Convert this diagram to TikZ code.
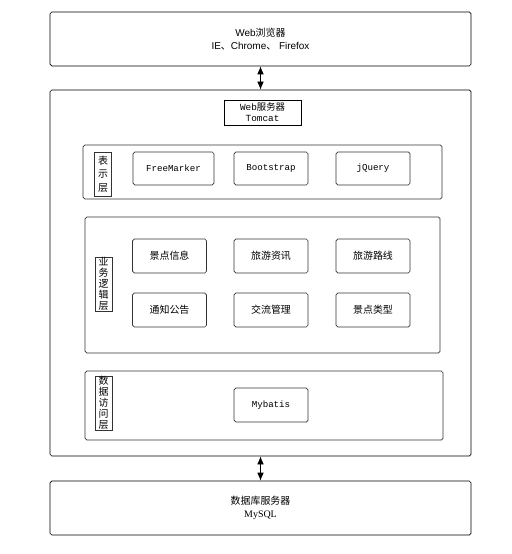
\documentclass[tikz,border=0pt]{standalone}
\usepackage{fontspec}
\usetikzlibrary{arrows.meta}
\setmainfont{Liberation Serif}
\setsansfont{Liberation Sans}
\setmonofont{Liberation Mono}
\newfontfamily\cjk{Noto Sans CJK SC}
\newcommand{\zh}[1]{{\cjk #1}}
\begin{document}
\begin{tikzpicture}[x=0.3mm,y=-0.3mm]
\tikzstyle{block} = [rectangle, draw=black, line width=0.6pt, rounded corners=1.5pt, minimum width=126.3mm, minimum height=16.2mm, inner sep=0pt, align=center, font=\fontsize{8.5}{10.5}\selectfont]
\tikzstyle{layer} = [rectangle, draw=black!80, line width=0.6pt, rounded corners=1.5pt, inner sep=0pt]
\tikzstyle{item} = [rectangle, draw=black!80, line width=0.6pt, rounded corners=1.5pt, minimum width=22.2mm, minimum height=10.2mm, inner sep=0pt, font=\ttfamily\fontsize{7.8}{9}\selectfont]
\tikzstyle{tag} = [rectangle, draw=black!80, line width=0.6pt, fill=white, minimum width=5.1mm, inner sep=0pt, text width=5.1mm, align=center]

\useasboundingbox (0,0) rectangle (511,554);

\node at (260.5,39) [block] (browser) {\sffamily Web\zh{浏览器}\\ \sffamily IE\zh{、}Chrome\zh{、} Firefox};

\node at (260.5,273) [block, minimum height=109.8mm] (server) {};
\node at (262.5,112.5) [rectangle, draw=black, line width=0.6pt, minimum width=23.1mm, minimum height=7.5mm, inner sep=0pt, align=center, font=\fontsize{8}{9.5}\selectfont] (tomcat) {\ttfamily Web\zh{服务器}\\ \ttfamily Tomcat};

\draw[<->, >={Latex[length=2.4mm,width=2mm]}, line width=0.6pt] (browser.south) -- (server.north);

% presentation layer
\node at (262.5,172) [layer, minimum width=107.7mm, minimum height=16.2mm] (pres) {};
\node at (103,174) [tag, minimum height=13.2mm, font=\cjk\fontsize{8.5}{11.5}\selectfont] (presTag) {表\\示\\层};
\node at (173.5,168.5) [item, minimum width=24.3mm, minimum height=9.9mm] (freemarker) {FreeMarker};
\node at (271,168.5) [item, minimum height=9.9mm] (bootstrap) {Bootstrap};
\node at (373,168.5) [item, minimum height=9.9mm] (jquery) {jQuery};

% business layer
\node at (262.5,285) [layer, minimum width=106.5mm, minimum height=40.8mm] (biz) {};
\node at (103.5,284) [tag, minimum height=16.2mm, font=\cjk\fontsize{8.5}{9.4}\selectfont] (bizTag) {业\\务\\逻\\辑\\层};
\node at (169.5,256) [item, font=\cjk\fontsize{8.5}{9}\selectfont] (spot) {景点信息};
\node at (271,256) [item, font=\cjk\fontsize{8.5}{9}\selectfont] (news) {旅游资讯};
\node at (373,256) [item, font=\cjk\fontsize{8.5}{9}\selectfont] (route) {旅游路线};
\node at (169.5,310) [item, font=\cjk\fontsize{8.5}{9}\selectfont] (notice) {通知公告};
\node at (271,310) [item, font=\cjk\fontsize{8.5}{9}\selectfont] (talk) {交流管理};
\node at (373,310) [item, font=\cjk\fontsize{8.5}{9}\selectfont] (spotType) {景点类型};

% data access layer
\node at (264,405.5) [layer, minimum width=107.4mm, minimum height=20.7mm] (data) {};
\node at (103.5,403) [tag, minimum height=16.2mm, font=\cjk\fontsize{8.5}{9.4}\selectfont] (dataTag) {数\\据\\访\\问\\层};
\node at (271,405) [item] (mybatis) {Mybatis};

\node at (260.5,508) [block] (db) {\zh{数据库服务器}\\ \rmfamily MySQL};

\draw[<->, >={Latex[length=2.4mm,width=2mm]}, line width=0.6pt] (server.south) -- (db.north);

\end{tikzpicture}
\end{document}
